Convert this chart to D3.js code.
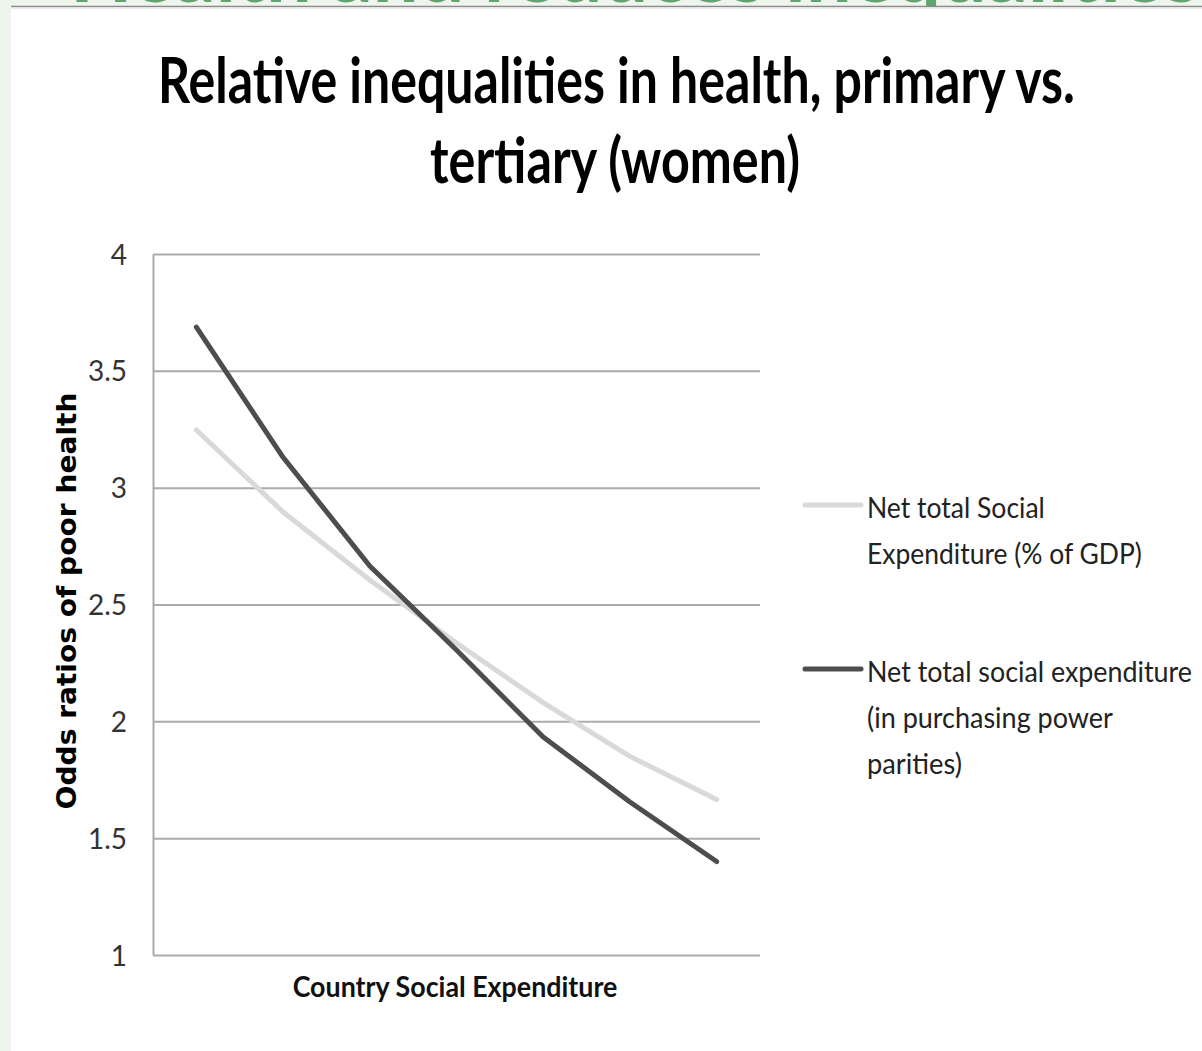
<!DOCTYPE html>
<html>
<head>
<meta charset="utf-8">
<script src="https://cdn.jsdelivr.net/npm/d3@7"></script>
<style>
  html, body { margin: 0; padding: 0; background: #ffffff; }
  svg { display: block; }
</style>
</head>
<body>
<svg id="chart" width="1202" height="1051"></svg>
<script>
// ---- data ----
const categories = ["1", "2", "3", "4", "5", "6", "7"];
const gdpValues = [3.247, 2.896, 2.605, 2.335, 2.08, 1.85, 1.665];   // Net total Social Expenditure (% of GDP)
const pppValues = [3.687, 3.13, 2.665, 2.305, 1.933, 1.655, 1.40];   // Net total social expenditure (PPP)
const yTicks = [1, 1.5, 2, 2.5, 3, 3.5, 4];
const seriesNames = ["Net total Social|Expenditure (% of GDP)", "Net total social expenditure|(in purchasing power|parities)"];
const titleLines = ["Relative inequalities in health, primary vs.", "tertiary (women)"];
const yLabel = "Odds ratios of poor health";
const xLabel = "Country Social Expenditure";
const bannerText = "Health and reduces inequalities";

const svg = d3.select("#chart");

// place a text at (x, y) and squeeze it horizontally to the target width
function fitText(parent, str, x, y, target, attrs, rotate) {
  const t = parent.append("text").attr("x", 0).attr("y", 0).text(str);
  Object.entries(attrs).forEach(([k, v]) => t.attr(k, v));
  const w = t.node().getComputedTextLength();
  const s = target / w;
  t.attr("transform", `translate(${x},${y})` + (rotate ? ` rotate(${rotate})` : "") + ` scale(${s},1)`);
  return t;
}

// background / slide frame
svg.append("rect").attr("x", 0).attr("y", 0).attr("width", 1202).attr("height", 1051).attr("fill", "#eef5ec");
svg.append("defs").append("clipPath").attr("id", "topclip")
  .append("rect").attr("x", 0).attr("y", 0).attr("width", 1202).attr("height", 6);
const banner = svg.append("g").attr("clip-path", "url(#topclip)");
fitText(banner, bannerText, 70, 1.5, 1130,
  {"font-family": "Lato", "font-weight": "bold", "font-size": 80, "fill": "#5ea56e"});
svg.append("rect").attr("x", 11).attr("y", 6).attr("width", 1191).attr("height", 1045).attr("fill", "#ffffff");
svg.append("line").attr("x1", 11).attr("x2", 1202).attr("y1", 6.5).attr("y2", 6.5)
  .attr("stroke", "#8a8a8a").attr("stroke-width", 1.5);
svg.append("line").attr("x1", 11).attr("x2", 1202).attr("y1", 8).attr("y2", 8)
  .attr("stroke", "#e4e4e4").attr("stroke-width", 1.5);

// title
const titleAttrs = {"font-family": "Lato", "font-weight": "bold", "font-size": 64, "fill": "#000", "text-anchor": "middle"};
fitText(svg, titleLines[0], 616.5, 103, 917, titleAttrs);
fitText(svg, titleLines[1], 615, 183, 370, titleAttrs);

// scales
const plotLeft = 153, plotRight = 760, plotTop = 254, plotBottom = 955;
const x = d3.scalePoint().domain(categories).range([plotLeft, plotRight]).padding(0.5);
const y = d3.scaleLinear().domain([1, 4]).range([plotBottom, plotTop]);

// y axis with gridlines
const yAxis = d3.axisLeft(y).tickValues(yTicks).tickFormat(d3.format(""))
  .tickSizeInner(-(plotRight - plotLeft)).tickSizeOuter(0).tickPadding(26);
const gy = svg.append("g").attr("transform", `translate(${plotLeft},0)`).call(yAxis);
gy.select(".domain").attr("stroke", "#ababab").attr("stroke-width", 2);
gy.selectAll(".tick line").attr("stroke", "#ababab").attr("stroke-width", 2);
gy.selectAll(".tick text")
  .attr("font-family", "Lato").attr("font-size", 28).attr("fill", "#333")
  .attr("dy", "0.36em");

// lines
const line = d3.line().x((d, i) => x(categories[i])).y(d => y(d)).curve(d3.curveLinear);
svg.append("path").datum(gdpValues).attr("d", line)
  .attr("fill", "none").attr("stroke", "#d9d9d9").attr("stroke-width", 5)
  .attr("stroke-linecap", "round").attr("stroke-linejoin", "round");
svg.append("path").datum(pppValues).attr("d", line)
  .attr("fill", "none").attr("stroke", "#4d4d4d").attr("stroke-width", 5)
  .attr("stroke-linecap", "round").attr("stroke-linejoin", "round");

// axis titles
fitText(svg, yLabel, 76, 601, 417,
  {"font-family": "DejaVu Sans", "font-weight": "bold", "font-size": 27, "fill": "#000", "text-anchor": "middle"}, -90);
fitText(svg, xLabel, 455, 997, 325,
  {"font-family": "Lato", "font-weight": "bold", "font-size": 28, "fill": "#111", "text-anchor": "middle"});

// legend
const legendColors = ["#d9d9d9", "#4d4d4d"];
const legendY = [505, 669];
const legendWidths = [[178, 275], [325, 246, 95]];
seriesNames.forEach((name, i) => {
  svg.append("line").attr("x1", 805).attr("x2", 861).attr("y1", legendY[i]).attr("y2", legendY[i])
    .attr("stroke", legendColors[i]).attr("stroke-width", 5).attr("stroke-linecap", "round");
  name.split("|").forEach((ln, j) => {
    fitText(svg, ln, 867, legendY[i] + 13 + j * 46, legendWidths[i][j],
      {"font-family": "Lato", "font-size": 29, "fill": "#222"});
  });
});
</script>
</body>
</html>
